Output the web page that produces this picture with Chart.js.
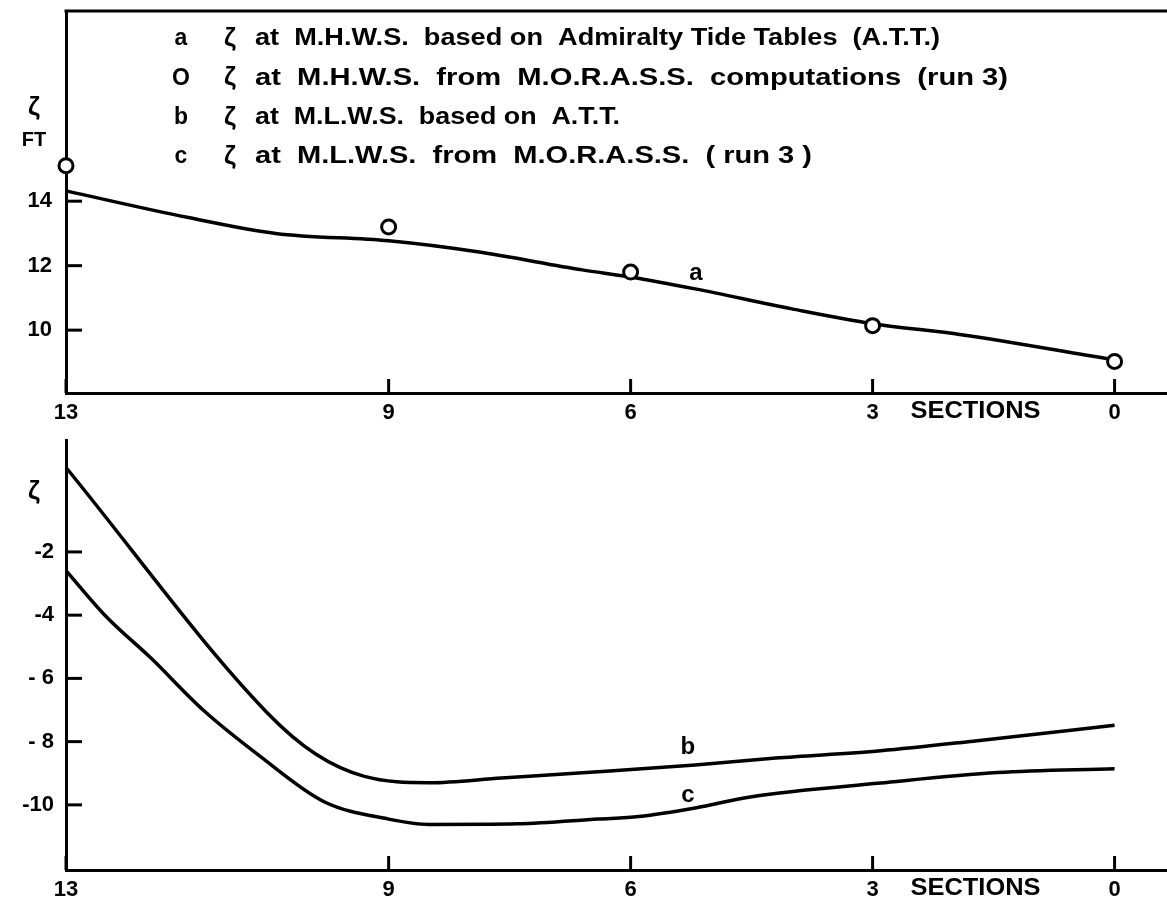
<!DOCTYPE html>
<html>
<head>
<meta charset="utf-8">
<script src="https://cdn.jsdelivr.net/npm/chart.js@4.4.1/dist/chart.umd.min.js"></script>
<style>
  html,body{margin:0;padding:0;background:#fff;}
  #wrap{position:relative;width:1167px;height:905px;overflow:hidden;}
  #topChart{position:absolute;left:0;top:0;}
  #botChart{position:absolute;left:0;top:420px;}
</style>
</head>
<body>
<div id="wrap">
  <canvas id="topChart" width="1167" height="440"></canvas>
  <canvas id="botChart" width="1167" height="485"></canvas>
</div>
<script>
// sections along the estuary (x axis runs 13 -> 0)
const sectionTicks=[13,9,6,3,0];
const hwTicks=[10,12,14];
const lwTicks=[-2,-4,-6,-8,-10];
const lwTickLabels=['-2','-4','- 6','- 8','-10'];

// a : zeta at M.H.W.S. from Admiralty Tide Tables
const attHwSections=[13,11.5,10.4,9,7.9,6.6,6,5.2,4,3,1.9,0];
const attHwValues=[14.32,13.5,13.0,12.77,12.43,11.87,11.65,11.28,10.66,10.2,9.86,9.08];

// o : zeta at M.H.W.S. from M.O.R.A.S.S. (run 3)
const morassHwSections=[13,9,6,3,0];
const morassHwValues=[15.1,13.2,11.8,10.14,9.03];

// b : zeta at M.L.W.S. from A.T.T.
const attLwSections=[13,10.5,9.9,9.3,8.5,7.6,6.5,5.2,4.2,2.9,1.7,0];
const attLwValues=[0.67,-7.1,-8.4,-9.1,-9.3,-9.15,-8.97,-8.74,-8.52,-8.29,-7.97,-7.48];

// c : zeta at M.L.W.S. from M.O.R.A.S.S. (run 3)
const morassLwSections=[13,12.5,11.95,11.3,10.6,9.8,9.0,8.5,7.4,6.4,5.9,5.2,4.5,2.9,1.45,0];
const morassLwValues=[-2.59,-4.05,-5.35,-7.0,-8.45,-9.9,-10.45,-10.62,-10.6,-10.45,-10.37,-10.1,-9.74,-9.31,-8.98,-8.86];

// legend rows (marker, text)
const legendMarks=['a','O','b','c'];
const legendTexts=[
  'at  M.H.W.S.  based on  Admiralty Tide Tables  (A.T.T.)',
  'at  M.H.W.S.  from  M.O.R.A.S.S.  computations  (run 3)',
  'at  M.L.W.S.  based on  A.T.T.',
  'at  M.L.W.S.  from  M.O.R.A.S.S.  ( run 3 )'
];
const legendEnds=[940,1008,620,812];

const FONT='"Liberation Sans", Arial, sans-serif';
Chart.defaults.font.family=FONT;
Chart.defaults.font.weight='bold';
Chart.defaults.font.size=22;
Chart.defaults.color='#000';

const pts=(xs,ys)=>xs.map((x,i)=>({x:x,y:ys[i]}));

function fitText(ctx,txt,x,y,w){
  const m=ctx.measureText(txt).width;
  ctx.save(); ctx.translate(x,y); ctx.scale(w/m,1); ctx.fillText(txt,0,0); ctx.restore();
}

// inward ticks, frame line and text annotations
const decor={
  id:'decor',
  afterDraw(chart,args,o){
    const {ctx,chartArea:a,scales:{x,y}}=chart;
    ctx.save();
    ctx.strokeStyle='#000'; ctx.lineWidth=3; ctx.lineCap='butt';
    sectionTicks.forEach(v=>{
      const px=x.getPixelForValue(v);
      ctx.beginPath(); ctx.moveTo(px,a.bottom); ctx.lineTo(px,a.bottom-14); ctx.stroke();
    });
    o.yTicks.forEach(v=>{
      const py=y.getPixelForValue(v);
      ctx.beginPath(); ctx.moveTo(a.left,py); ctx.lineTo(a.left+16,py); ctx.stroke();
    });
    if(o.topLine){
      ctx.beginPath(); ctx.moveTo(a.left-1.5,a.top); ctx.lineTo(a.right,a.top); ctx.stroke();
    }
    ctx.fillStyle='#000';
    ctx.textBaseline='middle';
    ctx.font='bold 23px '+FONT;
    ctx.textAlign='left';
    fitText(ctx,'SECTIONS',x.getPixelForValue(2.53),a.bottom+19,130);
    ctx.textAlign='center';
    // curve labels placed in data units
    ctx.font='bold 24px '+FONT;
    o.curveLabels.forEach(l=>ctx.fillText(l.t,x.getPixelForValue(l.x),y.getPixelForValue(l.y)));
    // axis unit
    ctx.font='bold 26px '+FONT;
    ctx.fillText('ζ',34,o.zetaY);
    if(o.ft){ ctx.font='bold 20px '+FONT; ctx.fillText('FT',34,140); }
    // legend
    if(o.legend){
      legendMarks.forEach((m,i)=>{
        const yy=39+i*39.3;
        ctx.textAlign='center';
        ctx.font='bold 23px '+FONT;
        ctx.fillText(m,181,yy);
        ctx.font='bold 26px '+FONT;
        ctx.fillText('ζ',230,yy);
        ctx.textAlign='left';
        ctx.font='bold 23px '+FONT;
        fitText(ctx,legendTexts[i],255,yy,legendEnds[i]-255);
      });
    }
    ctx.restore();
  }
};

function xScale(h){
  return {
    type:'linear', reverse:true, min:-0.65, max:13,
    afterBuildTicks:s=>{ s.ticks=sectionTicks.map(v=>({value:v})); },
    afterFit:s=>{ s.height=h; s.paddingLeft=0; s.paddingRight=0; },
    grid:{display:false, drawTicks:false},
    border:{display:true,color:'#000',width:3},
    ticks:{padding:7, autoSkip:false, maxRotation:0, callback:v=>String(v)}
  };
}

function yScale(min,max,ticks,labels,pad){
  return {
    type:'linear', min:min, max:max,
    afterBuildTicks:s=>{ s.ticks=ticks.map(v=>({value:v})); },
    afterFit:s=>{ s.width=66; s.paddingTop=0; s.paddingBottom=0; },
    grid:{display:false, drawTicks:false},
    border:{display:true,color:'#000',width:3},
    ticks:{padding:pad, callback:v=>labels[ticks.indexOf(v)]}
  };
}

const lineDs=(label,xs,ys)=>({
  label:label, data:pts(xs,ys), borderColor:'#000', borderWidth:3.5,
  pointRadius:0, cubicInterpolationMode:'monotone', fill:false, clip:false, order:2
});

// top panel: high water
new Chart(document.getElementById('topChart'),{
  type:'line',
  data:{datasets:[
    lineDs('a',attHwSections,attHwValues),
    {label:'o', data:pts(morassHwSections,morassHwValues), showLine:false,
     pointRadius:7, pointBorderWidth:3, pointBorderColor:'#000', pointBackgroundColor:'#fff',
     clip:false, order:1}
  ]},
  options:{
    responsive:false, animation:false, events:[],
    layout:{autoPadding:false, padding:{top:11,right:0,left:0,bottom:0}},
    plugins:{legend:{display:false},tooltip:{enabled:false},
      decor:{yTicks:hwTicks, topLine:true, legend:true, ft:true, zetaY:108,
        curveLabels:[{t:'a',x:5.19,y:11.77}]}},
    scales:{
      x:xScale(47),
      y:yScale(8.05,19.9,hwTicks,hwTicks.map(String),14)
    }
  },
  plugins:[decor]
});

// bottom panel: low water
new Chart(document.getElementById('botChart'),{
  type:'line',
  data:{datasets:[
    lineDs('b',attLwSections,attLwValues),
    lineDs('c',morassLwSections,morassLwValues)
  ]},
  options:{
    responsive:false, animation:false, events:[],
    layout:{autoPadding:false, padding:{top:20,right:0,left:0,bottom:0}},
    plugins:{legend:{display:false},tooltip:{enabled:false},
      decor:{yTicks:lwTicks, topLine:false, legend:false, ft:false, zetaY:72,
        curveLabels:[{t:'b',x:5.29,y:-8.19},{t:'c',x:5.29,y:-9.69}]}},
    scales:{
      x:xScale(35),
      y:yScale(-12.06,1.54,lwTicks,lwTickLabels,12)
    }
  },
  plugins:[decor]
});
</script>
</body>
</html>
